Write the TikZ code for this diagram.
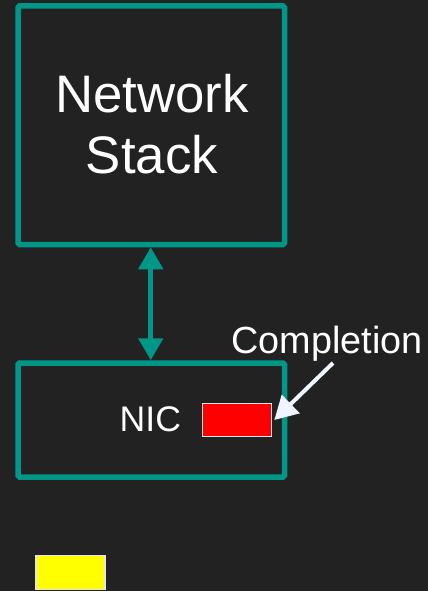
\documentclass[tikz,border=0pt]{standalone}
\usepackage{fontspec}
\setmainfont{Liberation Sans}
\usetikzlibrary{arrows.meta}
\definecolor{bgdark}{HTML}{222222}
\definecolor{tealline}{RGB}{0,150,136}
\definecolor{pointer}{HTML}{EEF5FF}
\definecolor{slotyellow}{RGB}{255,255,0}
\definecolor{slotred}{RGB}{255,0,0}
\tikzset{
  layerbox/.style={draw=tealline, line width=5.5pt, rounded corners=1.5pt, inner sep=0pt},
  slot/.style={draw=white!90!black, line width=1.2pt, minimum width=69pt, minimum height=33.6pt, inner sep=0pt},
  label/.style={text=white, inner sep=0pt},
}
\begin{document}
\begin{tikzpicture}[x=1pt, y=-1pt]
  \fill[bgdark] (0,0) rectangle (428,591);
  \useasboundingbox (0,0) rectangle (428,591);

  % the two layers
  \node[layerbox, minimum width=266.5pt, minimum height=238.5pt] (stack) at (151.25,125.25) {};
  \node[layerbox, minimum width=266.5pt, minimum height=114pt] (nic) at (151.25,420) {};

  % labels inside the layers
  \node[label, align=center, font=\fontsize{52.8}{61}\selectfont] (stacktext) at (152,124.5) {Network\\Stack};
  \node[label, anchor=base west, font=\fontsize{35.6}{40}\selectfont] (nictext) at (119.5,431.7) {NIC};

  % queue entries
  \node[slot, fill=slotred] (entry) at (236.7,420) {};
  \node[slot, fill=slotyellow] (pending) at (70.5,572.5) {};

  % link between stack and NIC
  \draw[tealline, line width=5pt, {Triangle[width=24pt,length=22pt]}-{Triangle[width=24pt,length=22pt]}]
    ([xshift=-0.5pt]stack.south) -- ([xshift=-0.5pt]nic.north);

  % completion marker
  \node[label, anchor=base west, font=\fontsize{37.8}{44}\selectfont] (comp) at (231.2,353) {Completion};
  \coordinate (compfoot) at (333,363);
  \draw[pointer, line width=4pt, -{Triangle[width=25pt,length=23pt]}]
    (compfoot) -- ([xshift=2.5pt]entry.east);
\end{tikzpicture}
\end{document}
